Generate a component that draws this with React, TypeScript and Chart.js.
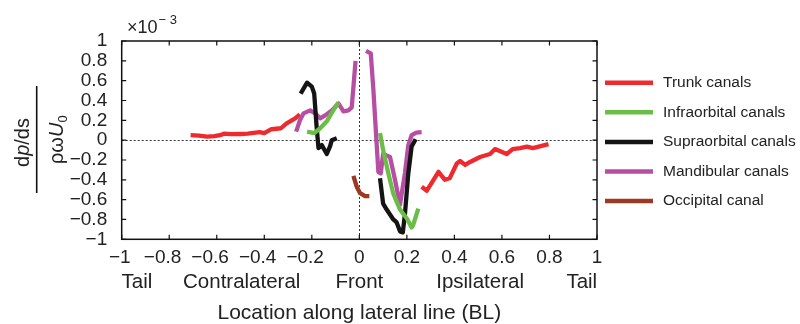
import React, { useEffect, useRef } from 'react';
import { Chart, registerables } from 'chart.js';

Chart.register(...registerables);

const FONT = '"Liberation Sans", Arial, Helvetica, sans-serif';

// ---- Data (y in units of 1e-3) ----
const trunkContraX = [-0.71, -0.675, -0.64, -0.61, -0.586, -0.57, -0.54, -0.5, -0.47, -0.42, -0.4, -0.37, -0.33, -0.306, -0.27, -0.25];
const trunkContraY = [0.05, 0.045, 0.035, 0.04, 0.05, 0.065, 0.06, 0.062, 0.065, 0.08, 0.07, 0.11, 0.12, 0.17, 0.22, 0.26];
const trunkIpsiX = [0.262, 0.284, 0.333, 0.36, 0.38, 0.41, 0.424, 0.445, 0.466, 0.508, 0.55, 0.571, 0.62, 0.645, 0.676, 0.705, 0.73, 0.796];
const trunkIpsiY = [-0.47, -0.51, -0.32, -0.4, -0.385, -0.235, -0.21, -0.25, -0.22, -0.17, -0.14, -0.09, -0.14, -0.09, -0.08, -0.065, -0.08, -0.04];

const infraContraX = [-0.22, -0.19, -0.165, -0.137, -0.11, -0.088];
const infraContraY = [0.086, 0.07, 0.12, 0.19, 0.3, 0.38];
const infraIpsiX = [0.087, 0.1, 0.122, 0.143, 0.171, 0.2, 0.22, 0.226, 0.248];
const infraIpsiY = [0.07, -0.1, -0.335, -0.54, -0.7, -0.79, -0.88, -0.86, -0.69];

const supraContraX = [-0.247, -0.22, -0.2, -0.19, -0.18, -0.172, -0.158, -0.137, -0.123, -0.116, -0.095];
const supraContraY = [0.47, 0.58, 0.54, 0.47, 0.14, -0.08, -0.05, -0.14, -0.06, 0.0, 0.02];
const supraIpsiX = [0.087, 0.1, 0.115, 0.143, 0.157, 0.171, 0.183, 0.192, 0.206, 0.22, 0.237];
const supraIpsiY = [-0.385, -0.64, -0.7, -0.8, -0.83, -0.92, -0.93, -0.74, -0.335, -0.065, 0.01];

const mandContraX = [-0.266, -0.25, -0.235, -0.207, -0.186, -0.165, -0.144, -0.116, -0.088, -0.067, -0.046, -0.032, -0.016];
const mandContraY = [0.086, 0.2, 0.27, 0.3, 0.27, 0.22, 0.25, 0.3, 0.37, 0.29, 0.3, 0.33, 0.8];
const mandIpsiX = [0.028, 0.048, 0.059, 0.07, 0.08, 0.09, 0.1, 0.129, 0.15, 0.171, 0.192, 0.206, 0.22, 0.24, 0.262];
const mandIpsiY = [0.9, 0.875, 0.51, 0.07, -0.32, -0.335, -0.14, -0.17, -0.4, -0.65, -0.33, -0.05, 0.05, 0.076, 0.08];

const occX = [-0.025, -0.011, 0.003, 0.024, 0.042];
const occY = [-0.36, -0.47, -0.535, -0.565, -0.565];

const legendLabels = ['Trunk canals', 'Infraorbital canals', 'Supraorbital canals', 'Mandibular canals', 'Occipital canal'];
const legendColors = ['#ee2a2e', '#6cbd48', '#141414', '#b64fa3', '#9a3a22'];

const regionLabels = ['Tail', 'Contralateral', 'Front', 'Ipsilateral', 'Tail'];
const regionPositions = [-0.936, -0.495, 0, 0.508, 0.936];

const tickValues = [-1, -0.8, -0.6, -0.4, -0.2, 0, 0.2, 0.4, 0.6, 0.8, 1];

const xTitle = 'Location along lateral line (BL)';

const zip = (xs: number[], ys: number[]) => xs.map((x, i) => ({ x, y: ys[i] }));

const fmt = (v: number) => {
  const r = Math.round(v * 10) / 10;
  if (Math.abs(r) < 1e-9) return '0';
  return r < 0 ? '\u2212' + String(Math.abs(r)) : String(r);
};

// x labels: negative labels sit slightly left of their tick, as in the source figure
const fmtX = (v: number) => {
  const s = fmt(v);
  const r = Math.round(v * 10) / 10;
  if (r < 0 && r > -1) return s + '\u2002\u2009';
  if (r <= -1) return s + '\u2009';
  return s;
};

const decor = {
  id: 'decor',
  beforeDatasetsDraw(chart: any) {
    const { ctx, chartArea: a, scales } = chart;
    const x0 = Math.round(scales.x.getPixelForValue(0)) + 0.5;
    const y0 = Math.round(scales.y.getPixelForValue(0)) + 0.5;
    ctx.save();
    ctx.strokeStyle = '#333';
    ctx.lineWidth = 1;
    ctx.setLineDash([2, 2]);
    ctx.beginPath();
    ctx.moveTo(x0, a.top);
    ctx.lineTo(x0, a.bottom);
    ctx.moveTo(a.left, y0);
    ctx.lineTo(a.right, y0);
    ctx.stroke();
    ctx.restore();
  },
  afterDraw(chart: any) {
    const { ctx, chartArea: a, scales } = chart;
    ctx.save();
    // frame
    ctx.strokeStyle = '#111';
    ctx.lineWidth = 1.5;
    ctx.strokeRect(a.left, a.top, a.right - a.left, a.bottom - a.top);
    // inward ticks
    ctx.lineWidth = 1.2;
    ctx.beginPath();
    tickValues.forEach((v) => {
      const px = scales.x.getPixelForValue(v);
      ctx.moveTo(px, a.bottom);
      ctx.lineTo(px, a.bottom - 4.5);
      ctx.moveTo(px, a.top);
      ctx.lineTo(px, a.top + 4.5);
      const py = scales.y.getPixelForValue(v);
      ctx.moveTo(a.left, py);
      ctx.lineTo(a.left + 4.5, py);
      ctx.moveTo(a.right, py);
      ctx.lineTo(a.right - 4.5, py);
    });
    ctx.stroke();

    // legend
    ctx.textBaseline = 'middle';
    ctx.textAlign = 'left';
    ctx.font = `15.5px ${FONT}`;
    legendLabels.forEach((lab, i) => {
      const yy = 82.7 + i * 29.6;
      ctx.strokeStyle = legendColors[i];
      ctx.lineWidth = 4.5;
      ctx.beginPath();
      ctx.moveTo(605, yy);
      ctx.lineTo(653, yy);
      ctx.stroke();
      ctx.fillStyle = '#222';
      ctx.fillText(lab, 663, yy);
    });

    // x10^-3
    ctx.fillStyle = '#222';
    ctx.textBaseline = 'alphabetic';
    ctx.font = `18px ${FONT}`;
    ctx.fillText('\u00d710', 127, 32.5);
    const w10 = ctx.measureText('\u00d710').width;
    ctx.font = `13px ${FONT}`;
    ctx.fillText('\u2212 3', 127 + w10 + 1, 23.5);

    // region labels
    ctx.textAlign = 'center';
    ctx.textBaseline = 'middle';
    ctx.font = `20.5px ${FONT}`;
    regionLabels.forEach((lab, i) => {
      ctx.fillText(lab, scales.x.getPixelForValue(regionPositions[i]), 282);
    });
    // x title
    ctx.font = `21px ${FONT}`;
    ctx.fillText(xTitle, (a.left + a.right) / 2, 313);

    // y title fraction
    ctx.strokeStyle = '#111';
    ctx.lineWidth = 1.6;
    ctx.beginPath();
    ctx.moveTo(36.7, 86);
    ctx.lineTo(36.7, 193);
    ctx.stroke();

    const drawRuns = (cx: number, cy: number, runs: { t: string; f: string; dy?: number }[]) => {
      ctx.save();
      ctx.translate(cx, cy);
      ctx.rotate(-Math.PI / 2);
      ctx.textAlign = 'left';
      ctx.textBaseline = 'alphabetic';
      let total = 0;
      const widths = runs.map((r) => {
        ctx.font = r.f;
        const w = ctx.measureText(r.t).width;
        total += w;
        return w;
      });
      let xx = -total / 2;
      runs.forEach((r, i) => {
        ctx.font = r.f;
        ctx.fillText(r.t, xx, 7 + (r.dy || 0));
        xx += widths[i];
      });
      ctx.restore();
    };
    ctx.fillStyle = '#222';
    drawRuns(21.5, 142.5, [
      { t: 'd', f: `20px ${FONT}` },
      { t: 'p', f: `italic 20px ${FONT}` },
      { t: '/ds', f: `20px ${FONT}` },
    ]);
    drawRuns(56, 139.7, [
      { t: '\u03c1\u03c9', f: `20px ${FONT}` },
      { t: 'U', f: `italic 20px ${FONT}` },
      { t: '0', f: `13px ${FONT}`, dy: 4 },
    ]);
    ctx.restore();
  },
};

const ds = (data: { x: number; y: number }[], color: string, order: number) => ({
  data,
  borderColor: color,
  backgroundColor: color,
  borderWidth: 4.3,
  pointRadius: 0,
  tension: 0,
  borderJoinStyle: 'round' as const,
  borderCapStyle: 'butt' as const,
  order,
  fill: false,
});

export default function App() {
  const ref = useRef<HTMLCanvasElement | null>(null);
  useEffect(() => {
    document.body.style.margin = '0';
    document.body.style.overflow = 'hidden';
    if (!ref.current) return;
    const chart = new Chart(ref.current, {
      type: 'line',
      data: {
        datasets: [
          ds(zip(occX, occY), legendColors[4], 0),
          ds(zip(infraContraX, infraContraY), legendColors[1], 1),
          ds(zip(infraIpsiX, infraIpsiY), legendColors[1], 1),
          ds(zip(supraContraX, supraContraY), legendColors[2], 2),
          ds(zip(supraIpsiX, supraIpsiY), legendColors[2], 2),
          ds(zip(mandContraX, mandContraY), legendColors[3], 3),
          ds(zip(mandIpsiX, mandIpsiY), legendColors[3], 3),
          ds(zip(trunkContraX, trunkContraY), legendColors[0], 4),
          ds(zip(trunkIpsiX, trunkIpsiY), legendColors[0], 4),
        ],
      },
      options: {
        animation: false,
        responsive: false,
        maintainAspectRatio: false,
        layout: { padding: { left: 0, top: 41, right: 203, bottom: 0 } },
        plugins: { legend: { display: false }, tooltip: { enabled: false } },
        scales: {
          x: {
            type: 'linear',
            min: -1,
            max: 1,
            afterFit: (s: any) => { s.height = 84.7; },
            afterBuildTicks: (s: any) => { s.ticks = tickValues.map((v) => ({ value: v })); },
            grid: { display: false },
            border: { display: false },
            ticks: {
              callback: (v: any) => fmtX(Number(v)),
              font: { family: FONT, size: 19 },
              color: '#222',
              padding: -1,
              maxRotation: 0,
              autoSkip: false,
            },
          },
          y: {
            type: 'linear',
            min: -1,
            max: 1,
            afterFit: (s: any) => { s.width = 121.7; },
            afterBuildTicks: (s: any) => { s.ticks = tickValues.map((v) => ({ value: v })); },
            grid: { display: false },
            border: { display: false },
            ticks: {
              callback: (v: any) => fmt(Number(v)),
              font: { family: FONT, size: 19 },
              color: '#222',
              padding: 6.5,
              autoSkip: false,
            },
          },
        },
      },
      plugins: [decor],
    } as any);
    return () => chart.destroy();
  }, []);
  return (
    <div style={{ width: 800, height: 324 }}>
      <canvas ref={ref} width={800} height={324} style={{ display: 'block', width: 800, height: 324 }} />
    </div>
  );
}
